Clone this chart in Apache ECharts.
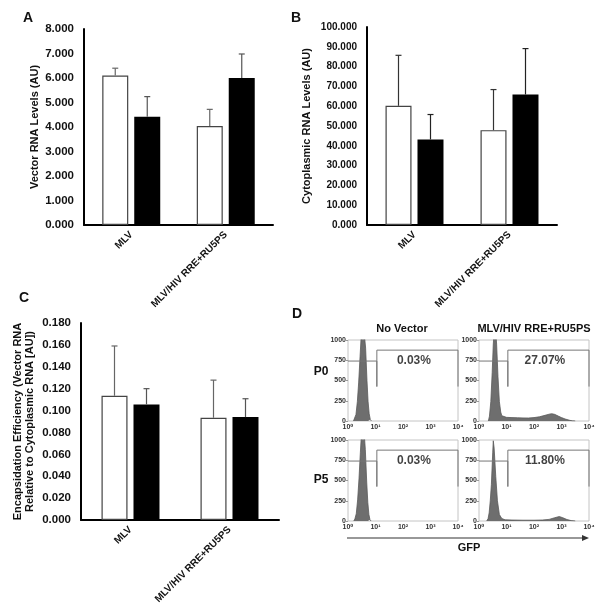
<!DOCTYPE html>
<html>
<head>
<meta charset="utf-8">
<script src="https://cdn.jsdelivr.net/npm/echarts@6/dist/echarts.min.js"></script>
<style>
html, body { margin: 0; padding: 0; background: #fff; }
#main { width: 600px; height: 603px; }
</style>
</head>
<body>
<div id="main"></div>
<script>
var FONT = 'Liberation Sans, Arial, DejaVu Sans, sans-serif';

// bar panels
var groups = ['MLV', 'MLV/HIV RRE+RU5PS'];
// A - vector RNA levels (AU); *Top = mean + error
var vecWhite = [6.10, 4.04];
var vecWhiteTop = [6.40, 4.72];
var vecBlack = [4.42, 6.00];
var vecBlackTop = [5.24, 6.98];
// B - cytoplasmic RNA levels (AU)
var cytoWhite = [60.2, 47.9];
var cytoWhiteTop = [85.7, 68.4];
var cytoBlack = [43.2, 65.9];
var cytoBlackTop = [55.8, 89.1];
// C - encapsidation efficiency
var encWhite = [0.1135, 0.0934];
var encWhiteTop = [0.159, 0.1278];
var encBlack = [0.1056, 0.0940];
var encBlackTop = [0.120, 0.1108];

// D - flow cytometry
var histTitles = ['No Vector', 'MLV/HIV RRE+RU5PS'];
var histRows = ['P0', 'P5'];
var gfpTicks = ['10\u2070', '10\u00b9', '10\u00b2', '10\u00b3', '10\u2074'];
var countTicks = [0, 250, 500, 750, 1000];
var gatePct = ['0.03%', '27.07%', '0.03%', '11.80%'];
var gateLine = [[1, 740], [11.2, 740], [11.2, 425], [11.2, 875], [10000, 875], [10000, 425]];
var histNoVecP0 = [[1.58, 0], [1.74, 20], [1.95, 80], [2.19, 240], [2.45, 480], [2.75, 800], [3.02, 1050], [3.47, 1250], [3.98, 1050], [4.37, 900], [4.9, 500], [5.37, 240], [5.89, 90], [6.46, 20], [7.08, 0]];
var histVecP0 = [[2.19, 0], [2.4, 60], [2.69, 240], [3.02, 600], [3.31, 950], [3.8, 1250], [4.37, 950], [4.9, 550], [5.5, 240], [6.17, 110], [6.76, 65], [7.94, 50], [10, 45], [15.8, 42], [25.1, 40], [39.8, 38], [63.1, 37], [100, 42], [158, 52], [251, 70], [355, 84], [437, 90], [562, 82], [794, 58], [1000, 42], [1350, 25], [2000, 8], [2510, 2], [3160, 0]];
var histNoVecP5 = [[1.62, 0], [1.78, 25], [2.0, 90], [2.24, 260], [2.51, 520], [2.82, 850], [3.09, 1080], [3.47, 1220], [3.89, 1080], [4.27, 880], [4.79, 480], [5.25, 230], [5.75, 80], [6.31, 15], [6.92, 0]];
var histVecP5 = [[1.91, 0], [2.14, 30], [2.34, 100], [2.57, 250], [2.82, 450], [3.16, 850], [3.31, 990], [3.55, 900], [4.07, 550], [4.68, 250], [5.5, 80], [6.76, 30], [8.91, 15], [15.8, 12], [39.8, 10], [100, 10], [200, 12], [355, 20], [562, 40], [832, 55], [1120, 40], [1580, 18], [2240, 5], [3160, 0]];

var chart = echarts.init(document.getElementById('main'));

var txt = { fontFamily: FONT, fontWeight: 'bold', color: '#111' };

function barX(i) {
    return {
        type: 'category', gridIndex: i, data: groups,
        axisLine: { lineStyle: { color: '#000', width: 2 } },
        axisTick: { show: false },
        axisLabel: Object.assign({ rotate: 45, fontSize: 10, margin: 8, interval: 0, hideOverlap: false }, txt)
    };
}
function barY(i, max, step, name, gap) {
    return {
        type: 'value', gridIndex: i, min: 0, max: max, interval: step,
        name: name, nameLocation: 'middle', nameGap: gap, nameRotate: 90,
        nameTextStyle: Object.assign({ fontSize: 11, lineHeight: 12 }, txt),
        axisLine: { show: true, lineStyle: { color: '#000', width: 2 } },
        axisTick: { show: false },
        splitLine: { show: false },
        axisLabel: Object.assign({ fontSize: i === 1 ? 10 : 11.5, margin: 10, formatter: function (v) { return v.toFixed(3); } }, txt)
    };
}
function bars(i, vals, white) {
    return {
        type: 'bar', xAxisIndex: i, yAxisIndex: i, data: vals,
        barWidth: 26, barGap: '23%',
        itemStyle: white ? { color: '#fff', borderColor: '#444', borderWidth: 1.2 } : { color: '#000' },
        z: 2
    };
}
function errs(i, vals, tops, offset, color) {
    return {
        type: 'custom', xAxisIndex: i, yAxisIndex: i,
        data: vals.map(function (v, k) { return [k, v, tops[k]]; }),
        encode: { x: 0, y: [1, 2] },
        renderItem: function (params, api) {
            var b = api.coord([api.value(0), api.value(1)]);
            var t = api.coord([api.value(0), api.value(2)]);
            var x = b[0] + offset;
            return {
                type: 'group', children: [
                    { type: 'line', shape: { x1: x, y1: b[1], x2: x, y2: t[1] }, style: { stroke: color, lineWidth: 1.2 } },
                    { type: 'line', shape: { x1: x - 3, y1: t[1], x2: x + 3, y2: t[1] }, style: { stroke: color, lineWidth: 1.2 } }
                ]
            };
        },
        z: 3
    };
}

// histogram panels
var histGrids = [
    { left: 348, top: 340, width: 110, height: 81 },
    { left: 479, top: 340, width: 110, height: 81 },
    { left: 348, top: 440, width: 110, height: 81 },
    { left: 479, top: 440, width: 110, height: 81 }
];
var histData = [histNoVecP0, histVecP0, histNoVecP5, histVecP5];

var grids = [
    { left: 84, top: 29, width: 189, height: 196 },
    { left: 367, top: 27, width: 190, height: 198 },
    { left: 81, top: 323, width: 198, height: 197 }
];
histGrids.forEach(function (g) {
    grids.push(Object.assign({ show: true, borderColor: '#c4c4c4', borderWidth: 1, backgroundColor: '#fff' }, g));
});
grids.forEach(function (g) { g.containLabel = false; g.outerBoundsMode = 'none'; });

var xAxes = [barX(0), barX(1), barX(2)];
var yAxes = [
    barY(0, 8, 1, 'Vector RNA Levels (AU)', 43),
    barY(1, 100, 10, 'Cytoplasmic RNA Levels (AU)', 54),
    barY(2, 0.18, 0.02, 'Encapsidation Efficiency (Vector RNA\nRelative to Cytoplasmic RNA [AU])', 45)
];
var series = [
    bars(0, vecWhite, true), bars(0, vecBlack, false),
    errs(0, vecWhite, vecWhiteTop, -16, '#666'), errs(0, vecBlack, vecBlackTop, 16, '#555'),
    bars(1, cytoWhite, true), bars(1, cytoBlack, false),
    errs(1, cytoWhite, cytoWhiteTop, -16, '#333'), errs(1, cytoBlack, cytoBlackTop, 16, '#222'),
    bars(2, encWhite, true), bars(2, encBlack, false),
    errs(2, encWhite, encWhiteTop, -16, '#666'), errs(2, encBlack, encBlackTop, 16, '#555')
];

histGrids.forEach(function (g, k) {
    var gi = k + 3;
    xAxes.push({
        type: 'log', logBase: 10, gridIndex: gi, min: 1, max: 10000,
        axisLine: { show: false }, axisTick: { show: false }, splitLine: { show: false },
        axisLabel: Object.assign({ fontSize: 7, margin: 3, showMinLabel: true, showMaxLabel: true, hideOverlap: false,
            formatter: function (v) { return gfpTicks[Math.round(Math.log10(v))]; } }, txt, { color: '#333' })
    });
    yAxes.push({
        type: 'value', gridIndex: gi, min: 0, max: 1000, interval: 250,
        axisLine: { show: false }, splitLine: { show: false },
        axisTick: { show: true, length: 2, lineStyle: { color: '#999' } },
        axisLabel: Object.assign({ fontSize: 7, margin: 2,
            formatter: function (v) { return countTicks.indexOf(v) >= 0 ? String(v) : ''; } }, txt, { color: '#333' })
    });
    series.push({
        type: 'line', xAxisIndex: gi, yAxisIndex: gi, data: histData[k],
        symbol: 'none', clip: true,
        lineStyle: { color: '#5a5a5a', width: 0.8 },
        areaStyle: { color: '#6e6e6e', opacity: 1 },
        z: 2
    });
    series.push({
        type: 'line', xAxisIndex: gi, yAxisIndex: gi, data: gateLine,
        symbol: 'none', clip: false,
        lineStyle: { color: '#777', width: 1 },
        z: 3
    });
    series.push({
        type: 'scatter', xAxisIndex: gi, yAxisIndex: gi, data: [[250, 745]],
        symbolSize: 0,
        label: Object.assign({ show: true, position: 'inside', fontSize: 12, formatter: gatePct[k] }, txt),
        z: 4
    });
});

function label(text, x, y, size, align) {
    return {
        type: 'text', left: x, top: y,
        style: { text: text, fontFamily: FONT, fontWeight: 'bold', fontSize: size, fill: '#111', align: align || 'center', verticalAlign: 'middle' },
        x: 0, y: 0
    };
}
function place(text, x, y, size) {
    return {
        type: 'text', x: x, y: y,
        style: { text: text, fontFamily: FONT, fontWeight: 'bold', fontSize: size, fill: '#111', align: 'center', verticalAlign: 'middle' }
    };
}

var graphics = [
    place('A', 28, 18, 14),
    place('B', 296, 18, 14),
    place('C', 24, 298, 14),
    place('D', 297, 314, 14),
    place(histTitles[0], 402, 329, 11),
    place(histTitles[1], 534, 329, 11),
    place(histRows[0], 321, 372, 12),
    place(histRows[1], 321, 480, 12),
    place('GFP', 469, 548, 11),
    { type: 'line', shape: { x1: 347, y1: 538, x2: 584, y2: 538 }, style: { stroke: '#333', lineWidth: 1.2 } },
    { type: 'polygon', shape: { points: [[589, 538], [582, 535], [582, 541]] }, style: { fill: '#333' } }
];

chart.setOption({
    animation: false,
    backgroundColor: '#fff',
    grid: grids,
    xAxis: xAxes,
    yAxis: yAxes,
    series: series,
    graphic: graphics
});
</script>
</body>
</html>
